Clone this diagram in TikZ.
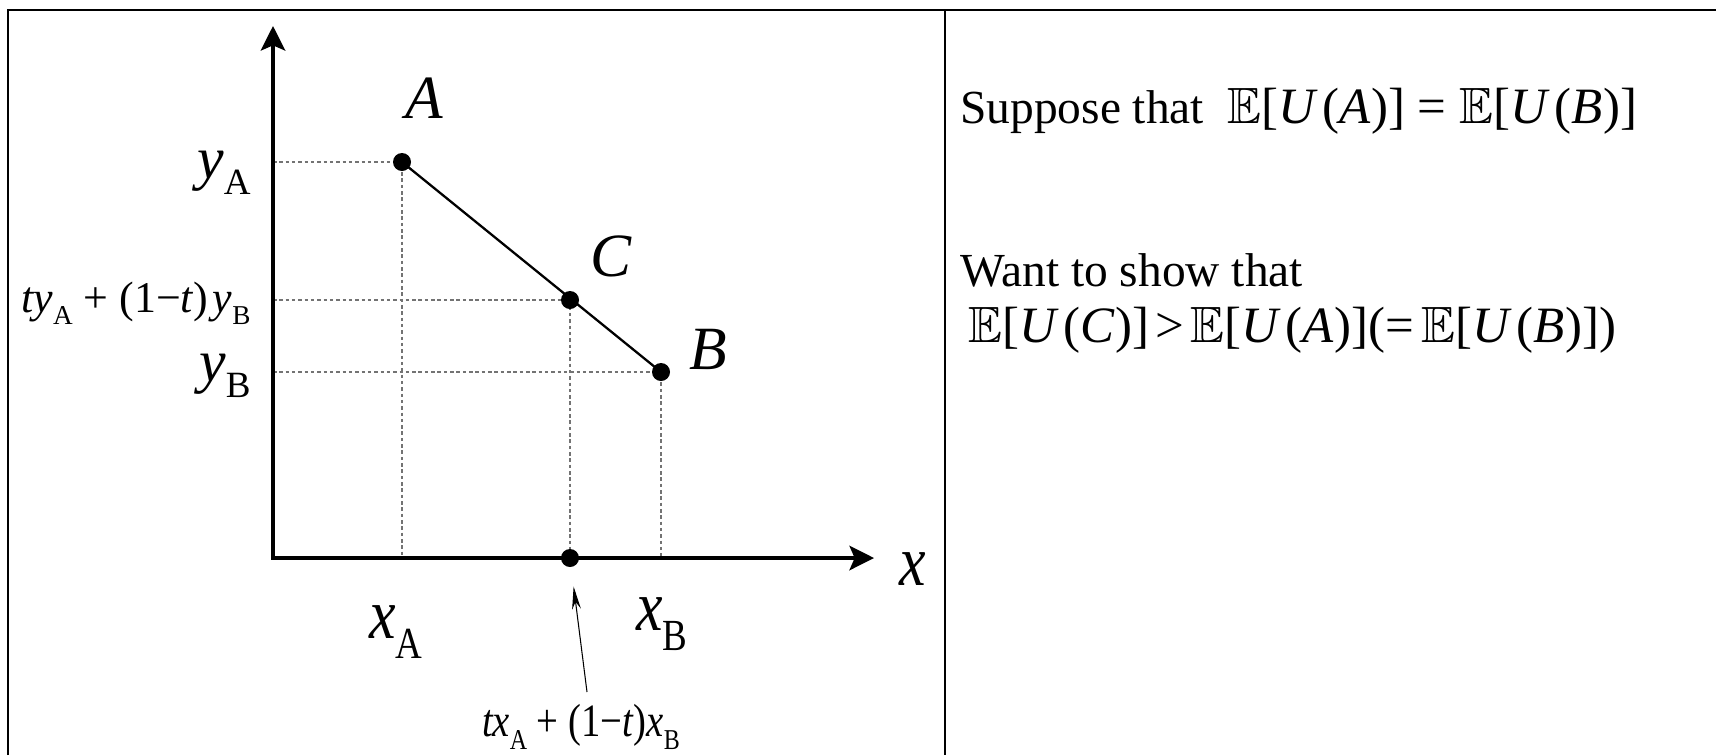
\documentclass[tikz,border=0pt]{standalone}
\usepackage{amssymb}
\usepackage{fontspec}
\setmainfont{Liberation Serif}
\usetikzlibrary{arrows.meta,positioning}

\newcommand{\sub}[1]{\raisebox{-0.28em}{\scalebox{0.62}{#1}}}
\newcommand{\tall}[1]{\scalebox{1}[1.2]{#1}}
\newcommand{\EU}[1]{$\mathbb{E}$[\textit{U}\hspace{0.1em}(\textit{#1})]}

\begin{document}
\begin{tikzpicture}[
  x=0.02cm,y=-0.02cm,
  frame/.style={line width=1.4pt},
  axis/.style={line width=1.8pt,
    {Stealth[length=14pt,width=14pt,inset=3pt]}-{Stealth[length=14pt,width=14pt,inset=3pt]}},
  seg/.style={line width=1.3pt},
  guide/.style={draw=black!55,line width=0.6pt,dash pattern=on 2pt off 1.6pt},
  dot/.style={circle,fill=black,inner sep=0pt,minimum size=0.36cm},
  pt/.style={font=\fontsize{35}{40}\selectfont\itshape,inner sep=0pt},
  tick/.style={font=\fontsize{34}{38}\selectfont,inner sep=0pt},
  mid/.style={font=\fontsize{25}{28}\selectfont,inner sep=0pt},
  low/.style={font=\fontsize{22}{25}\selectfont,inner sep=0pt},
  txt/.style={font=\fontsize{27}{30}\selectfont,inner sep=0pt,anchor=base west},
  fml/.style={font=\fontsize{29}{32}\selectfont,inner sep=0pt,anchor=base west},
  pointer/.style={line width=0.6pt,-{Stealth[length=13pt,width=5pt]}}
]
  \useasboundingbox (0,0) rectangle (1716,755);
  \draw[frame] (8,755) -- (8,10) -- (1716,10);
  \draw[frame] (945,10) -- (945,755);

  \coordinate (O) at (273,558);
  \coordinate (ytip) at (273,26);
  \coordinate (xtip) at (874,558);
  \coordinate (pA) at (402,162);
  \coordinate (pC) at (570,300);
  \coordinate (pB) at (661,372);
  \coordinate (pD) at (570,558);
  \coordinate (tail) at (587,692);

  \draw[guide] (O |- pA) -- (pA) -- (pA |- O);
  \draw[guide] (O |- pC) -- (pC) -- (pC |- O);
  \draw[guide] (O |- pB) -- (pB) -- (pB |- O);
  \draw[axis] (ytip) -- (O) -- (xtip);
  \draw[seg] (pA) -- (pB);

  \node[dot] (A) at (pA) {};
  \node[dot] (C) at (pC) {};
  \node[dot] (B) at (pB) {};
  \node[dot] (D) at (pD) {};

  \node[pt,anchor=base] (labA) at (424,118) {A};
  \node[pt,anchor=base] (labC) at (611,276) {C};
  \node[pt,anchor=base] (labB) at (708,369) {B};
  \node[tick,anchor=base] (labx) at (913,585) {\tall{\textit{x}}};
  \node[tick,anchor=base] (labxA) at (396,638) {\tall{\textit{x}\sub{A}}};
  \node[tick,anchor=base] (labxB) at (662,630) {\tall{\textit{x}\sub{B}}};
  \node[tick,anchor=base east] (labyA) at (251,178) {\textit{y}\sub{A}};
  \node[mid,anchor=base east] (labyC) at (251,312) {\textit{ty}\sub{A} + (1−\textit{t})\hspace{0.1em}\textit{y}\sub{B}};
  \node[tick,anchor=base east] (labyB) at (251,381) {\textit{y}\sub{B}};
  \node[low,anchor=base] (labxC) at (581,736) {\tall{\textit{tx}\sub{A} + (1−\textit{t})\textit{x}\sub{B}}};

  \draw[pointer,shorten >=11pt] (tail) -- (D);

  \node[txt] (suppose) at (960,123) {Suppose that};
  \node[fml] (given) at (1227,123) {\EU{A} = \EU{B}};
  \node[txt] (want) at (960,286) {Want to show that};
  \node[fml] (goal) at (968,342) {\EU{C}\hspace{0.12em}>\hspace{0.12em}\EU{A}(=\hspace{0.15em}\EU{B})};
\end{tikzpicture}
\end{document}
